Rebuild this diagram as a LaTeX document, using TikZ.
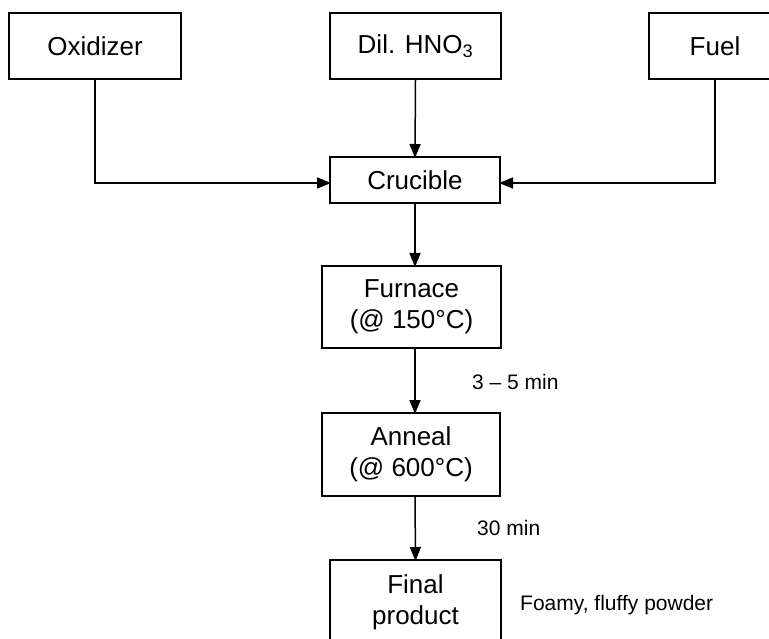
\documentclass[tikz,border=0pt]{standalone}
\usepackage{fontspec}
\setmainfont{Liberation Sans}
\usetikzlibrary{arrows.meta}

\begin{document}
\begin{tikzpicture}[x=1pt, y=-1pt, line join=miter,
		box/.style={draw, line width=2pt, inner sep=0pt, align=center, font=\fontsize{26}{31}\selectfont},
		flow/.style={line width=1.5pt, -{Triangle[length=14pt, width=11pt]}, shorten >=-2pt},
		lbl/.style={anchor=west, inner sep=0pt, font=\fontsize{21}{25}\selectfont}]
	% Khung của hình
	\useasboundingbox (0,0) rectangle (769,639);
	
	% Ba nguyên liệu ban đầu
	\node[box, minimum width=172pt, minimum height=66pt] (ox) at (95,46) {Oxidizer};
	\node[box, minimum width=171pt, minimum height=66pt] (hno) at (415.5,46) {Dil. HNO\textsubscript{3}};
	\node[box, minimum width=132pt, minimum height=66pt] (fuel) at (715,46) {Fuel};
	
	% Các bước xử lý
	\node[box, minimum width=170pt, minimum height=46pt] (cru) at (415,180) {Crucible};
	\node[box, minimum width=179pt, minimum height=82pt] (fur) at (411.5,307) {Furnace\\(@ 150°C)};
	\node[box, minimum width=178pt, minimum height=83pt] (ann) at (411,454.5) {Anneal\\(@ 600°C)};
	\node[box, minimum width=171pt, minimum height=84pt] (fin) at (415.5,602) {Final\\product};
	
	% Mũi tên nối
	\draw[flow] (ox.south) |- ([yshift=-3pt]cru.west);
	\draw[flow] (fuel.south) |- ([yshift=-3pt]cru.east);
	\draw[flow] (hno.south) -- (cru.north);
	\draw[flow] (cru.south) -- (cru.south |- fur.north);
	\draw[flow] (cru.south |- fur.south) -- (cru.south |- ann.north);
	\draw[flow] (cru.south |- ann.south) -- (fin.north);
	
	% Ghi chú
	\node[lbl] (t1) at (472,382) {3 – 5 min};
	\node[lbl] (t2) at (477,528) {30 min};
	\node[lbl] (t3) at (520,605) {Foamy, fluffy powder};
\end{tikzpicture}
\end{document}
